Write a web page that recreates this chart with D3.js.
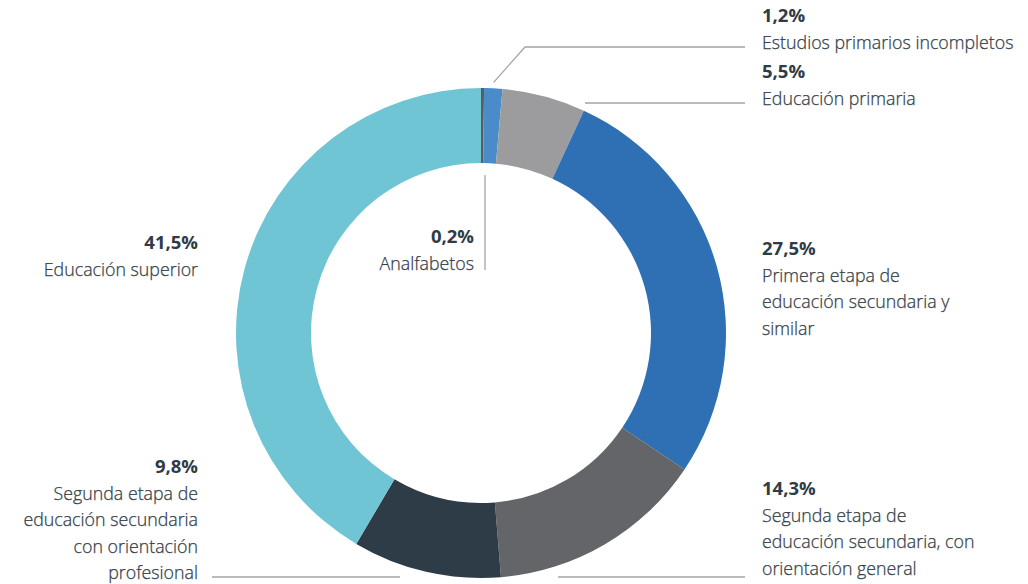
<!DOCTYPE html>
<html>
<head>
<meta charset="utf-8">
<script src="https://cdn.jsdelivr.net/npm/d3@7"></script>
<style>
  body { margin: 0; background: #fff; }
  text { font-family: "Open Sans", sans-serif; }
</style>
</head>
<body>
<div id="chart"></div>
<script>
var categories = [
  "Analfabetos",
  "Estudios primarios incompletos",
  "Educación primaria",
  "Primera etapa de educación secundaria y similar",
  "Segunda etapa de educación secundaria, con orientación general",
  "Segunda etapa de educación secundaria con orientación profesional",
  "Educación superior"
];
var values = [0.2, 1.2, 5.5, 27.5, 14.3, 9.8, 41.5];
var valueLabels = ["0,2%", "1,2%", "5,5%", "27,5%", "14,3%", "9,8%", "41,5%"];
var labelLines = [
  ["Analfabetos"],
  ["Estudios primarios incompletos"],
  ["Educación primaria"],
  ["Primera etapa de", "educación secundaria y", "similar"],
  ["Segunda etapa de", "educación secundaria, con", "orientación general"],
  ["Segunda etapa de", "educación secundaria", "con orientación", "profesional"],
  ["Educación superior"]
];
var colors = ["#5b5c5f", "#4a8cc9", "#9c9c9e", "#2e70b3", "#646569", "#2e3c47", "#70c5d5"];

var width = 1028, height = 584;
var cx = 481, cy = 333, rOuter = 245, rInner = 170;

// label anchor (x, y of first line baseline), anchor side
var labelPos = [
  { x: 474, y: 243, anchor: "end" },
  { x: 762, y: 22, anchor: "start" },
  { x: 762, y: 78, anchor: "start" },
  { x: 762, y: 255, anchor: "start" },
  { x: 762, y: 495, anchor: "start" },
  { x: 198, y: 473, anchor: "end" },
  { x: 198, y: 249, anchor: "end" }
];
var lineH = 26.5;

var svg = d3
  .select("#chart")
  .append("svg")
  .attr("width", width)
  .attr("height", height);

var pie = d3.pie().sort(null).value(function (d) { return d; });
var arc = d3.arc().innerRadius(rInner).outerRadius(rOuter);
var arcs = pie(values);

var g = svg.append("g").attr("transform", "translate(" + cx + "," + cy + ")");
g.selectAll("path")
  .data(arcs)
  .enter()
  .append("path")
  .attr("d", arc)
  .style("fill", function (d, i) { return colors[i]; });

// leader lines
var lineColor = "#a3a3a3";
function pt(angle, r) {
  return [cx + r * Math.sin(angle), cy - r * Math.cos(angle)];
}
function mid(d) { return (d.startAngle + d.endAngle) / 2; }

var leaders = svg.append("g")
  .style("fill", "none")
  .style("stroke", lineColor)
  .style("stroke-width", 1.3);

// Analfabetos: vertical inside the hole
var a0 = pt(mid(arcs[0]), rInner - 12);
leaders.append("path").attr("d", d3.line()([[a0[0] + 3, a0[1]], [a0[0] + 3, 270]]));

// Estudios primarios incompletos
var a1 = pt(mid(arcs[1]), rOuter + 6);
leaders.append("path").attr("d", d3.line()([a1, [525, 47], [745, 47]]));

// Educación primaria
leaders.append("path").attr("d", d3.line()([[585, 103], [745, 103]]));

// Segunda etapa general
leaders.append("path").attr("d", d3.line()([[558, 577], [745, 577]]));

// Segunda etapa profesional
leaders.append("path").attr("d", d3.line()([[212, 577], [400, 577]]));

// labels
var labels = svg.selectAll(".label")
  .data(arcs)
  .enter()
  .append("text")
  .attr("class", "label")
  .attr("text-anchor", function (d, i) { return labelPos[i].anchor; })
  .style("font-size", "17.8px")
  .style("fill", "#2f3b46");

labels.each(function (d, i) {
  var t = d3.select(this);
  t.append("tspan")
    .attr("x", labelPos[i].x)
    .attr("y", labelPos[i].y)
    .style("font-weight", "bold")
    .style("font-size", "18.5px")
    .text(valueLabels[i]);
  labelLines[i].forEach(function (s, k) {
    t.append("tspan")
      .attr("x", labelPos[i].x)
      .attr("y", labelPos[i].y + lineH * (k + 1))
      .style("fill", "#333e48")
      .style("font-weight", 300)
      .style("stroke", "#333e48")
      .style("stroke-width", 0.25)
      .text(s);
  });
});
</script>
</body>
</html>
